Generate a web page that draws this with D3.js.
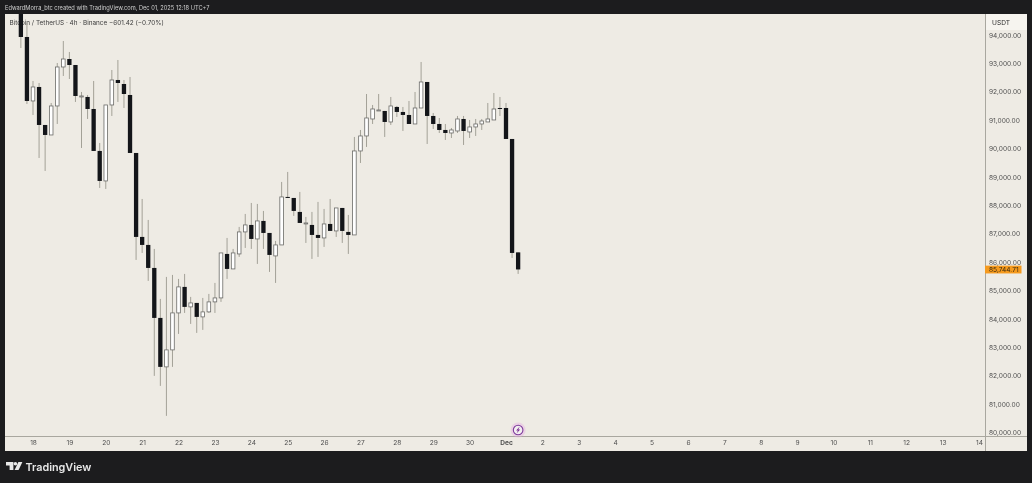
<!DOCTYPE html>
<html>
<head>
<meta charset="utf-8">
<script src="https://cdn.jsdelivr.net/npm/d3@7"></script>
<style>
  html, body { margin: 0; padding: 0; background: #1c1c1e; }
  svg { display: block; font-family: Inter, "Liberation Sans", sans-serif; filter: blur(0.3px); }
</style>
</head>
<body>
<svg id="chart" width="1032" height="483"></svg>
<script>
// 4h candles, first one sits two bars before the "18" tick
const firstBar = -2
const opens = [95100,93930,91677,92170,90832,90480,91501,92874,93155,92944,91818,91818,91395,89917,88861,91536,92416,92275,91888,89846,86890,86608,85798,84038,82314,82912,84214,85130,84426,84566,84074,84250,84602,84742,86291,85763,86291,87066,87312,86819,87453,87030,86221,86608,88298,88262,87770,87347,87312,86960,86854,87347,87101,87910,87066,86960,89917,90445,91043,91325,91325,90938,91466,91290,91184,90867,91430,92346,91149,90867,90656,90550,90621,91043,90586,90762,90867,90938,91008,91430,91430,90339,86346.13]
const highs = [95300,94420,92381,92310,90832,91606,93014,93789,93402,92944,91994,91888,92381,90198,91536,92768,93120,92416,92522,89846,88227,87488,86467,84707,85482,85552,85411,85587,84778,84566,84742,84883,85270,86326,86854,86467,87242,87699,88086,88051,87805,87030,86749,88826,89178,88262,88474,87594,87770,88122,87875,88227,87910,87910,87664,90410,90656,91923,91536,91923,91325,91818,91501,91466,91677,91994,93050,92346,91254,91078,90867,90726,91149,91149,91008,91043,91043,91606,91958,91818,91606,90339,86346.13]
const lows = [93542,91571,91184,89670,89213,90480,90867,92557,92451,91642,90022,91043,89917,88614,88579,91149,91642,91430,89846,86080,86326,85341,81997,81645,80589,82314,83475,84214,83827,83510,83616,84214,84214,84602,85411,85763,86186,86502,86467,85939,86467,85658,85270,86608,88262,87629,87382,86678,86115,86186,86538,87101,86890,86678,86291,86960,89494,90058,90867,91325,90410,90832,91114,90621,90867,90867,91430,90163,90691,90550,90304,90374,90550,90128,90374,90445,90656,90938,91008,91149,90339,86150,85587]
const closes = [93930,91677,92170,90832,90480,91501,92874,93155,92944,91853,91853,91395,89917,88861,91536,92416,92310,91923,89846,86890,86608,85798,84038,82314,82912,84214,85130,84426,84566,84074,84250,84602,84742,86326,85763,86326,87066,87312,86819,87453,87030,86256,86608,88298,88262,87805,87382,87382,86960,86854,87347,87101,87910,87101,86960,89917,90445,91078,91395,91360,90938,91501,91290,91184,90867,91430,92346,91149,90867,90656,90550,90656,91043,90621,90762,90867,90973,91043,91395,91395,90339,86326,85744.71]

const priceTicks = [94000,93000,92000,91000,90000,89000,88000,87000,86000,85000,84000,83000,82000,81000,80000]
const dayLabels = ["18","19","20","21","22","23","24","25","26","27","28","29","30","Dec","2","3","4","5","6","7","8","9","10","11","12","13","14"]
const barsPerDay = 6

const headerText = "EdwardMorra_btc created with TradingView.com, Dec 01, 2025 12:18 UTC+7"
const legendText = "Bitcoin / TetherUS · 4h · Binance"
const changeText = "−601.42 (−0.70%)"
const lastPrice = closes[closes.length - 1]

const bg = "#1c1c1e", paper = "#eeebe4", axisLine = "#a9a79f", labelColor = "#4f4f4f"
const plot = {left: 5, right: 985, top: 14, bottom: 437, axisRight: 1027, axisBottom: 451}

const svg = d3.select("#chart")
const fmt = d3.format(",.2f")

const x = d3.scaleLinear().domain([0, 156]).range([33, 979])
const y = d3.scaleLinear().domain([80000, 94000]).range([432.6, 35])

svg.append("rect").attr("width", 1032).attr("height", 483).attr("fill", bg)
svg.append("rect")
    .attr("x", plot.left).attr("y", plot.top)
    .attr("width", plot.axisRight - plot.left).attr("height", plot.axisBottom - plot.top)
    .attr("fill", paper)
svg.append("rect")
    .attr("x", plot.right).attr("y", plot.top)
    .attr("width", plot.axisRight - plot.right).attr("height", 16)
    .attr("fill", "#f6f4ef")

svg.append("clipPath").attr("id", "plotClip")
  .append("rect")
    .attr("x", plot.left).attr("y", plot.top)
    .attr("width", plot.right - plot.left).attr("height", plot.bottom - plot.top)

svg.append("text")
    .attr("x", 5).attr("y", 10)
    .attr("fill", "#cfcfcf").attr("font-size", 5.7)
    .text(headerText)

const legend = svg.append("text")
    .attr("x", 9.5).attr("y", 24.5)
    .attr("fill", "#3c3c3c").attr("font-size", 6.4)
legend.append("tspan").text(legendText)
legend.append("tspan").attr("x", 109).text(changeText)

// candles
const bars = d3.range(opens.length).map(i => ({
  pos: i + firstBar, open: opens[i], high: highs[i], low: lows[i], close: closes[i]
}))
const candles = svg.append("g").attr("clip-path", "url(#plotClip)")

candles.selectAll("line.wick")
  .data(bars)
  .join("line")
    .attr("class", "wick")
    .attr("x1", d => x(d.pos)).attr("x2", d => x(d.pos))
    .attr("y1", d => y(d.high)).attr("y2", d => y(d.low))
    .attr("stroke", "#a3a197").attr("stroke-width", 1)

candles.selectAll("rect.body")
  .data(bars)
  .join("rect")
    .attr("class", "body")
    .each(function(d) {
      const up = d.close >= d.open
      const w = up ? 3.6 : 4.3
      const top = y(Math.max(d.open, d.close))
      const h = Math.max(y(Math.min(d.open, d.close)) - top, 0.8)
      d3.select(this)
          .attr("x", x(d.pos) - w / 2).attr("y", top)
          .attr("width", w).attr("height", h)
          .attr("fill", up ? "#ffffff" : "#131519")
          .attr("stroke", up ? "#6b6b68" : "none")
          .attr("stroke-width", up ? 0.8 : 0)
    })

// axes
const priceAxis = d3.axisRight(y)
    .tickValues(priceTicks)
    .tickSize(0).tickPadding(4)
    .tickFormat(fmt)
const gy = svg.append("g")
    .attr("transform", `translate(${plot.right},0)`)
    .call(priceAxis)
gy.select(".domain").remove()
gy.selectAll("text")
    .attr("font-size", 6.6).attr("font-family", "Inter, sans-serif").attr("fill", labelColor)

const timeAxis = d3.axisBottom(x)
    .tickValues(dayLabels.map((d, i) => i * barsPerDay))
    .tickSize(0).tickPadding(3.5)
    .tickFormat((d, i) => dayLabels[i])
const gx = svg.append("g")
    .attr("transform", `translate(0,${plot.bottom})`)
    .call(timeAxis)
gx.select(".domain").remove()
gx.selectAll("text")
    .attr("font-size", 6.6).attr("font-family", "Inter, sans-serif").attr("fill", labelColor)
    .attr("font-weight", (d, i) => dayLabels[i] === "Dec" ? 700 : 400)

svg.append("line")
    .attr("x1", plot.right + 0.5).attr("x2", plot.right + 0.5)
    .attr("y1", plot.top).attr("y2", plot.axisBottom)
    .attr("stroke", axisLine)
svg.append("line")
    .attr("x1", plot.left).attr("x2", plot.axisRight)
    .attr("y1", plot.bottom - 0.5).attr("y2", plot.bottom - 0.5)
    .attr("stroke", axisLine)

svg.append("text")
    .attr("x", 992).attr("y", 25.2)
    .attr("fill", "#2a2a2a").attr("font-size", 6.6)
    .text("USDT")

// last price tag
svg.append("rect")
    .attr("x", plot.right).attr("y", y(lastPrice) - 3.8)
    .attr("width", 36.5).attr("height", 7.8)
    .attr("fill", "#f59a1e")
svg.append("text")
    .attr("x", 989).attr("y", y(lastPrice) + 0.2).attr("dy", "0.34em")
    .attr("fill", "#3a2a10").attr("font-size", 6.6)
    .text(fmt(lastPrice))

// lightning marker under the last bars
const marker = svg.append("g").attr("transform", `translate(${x(80)},430)`)
marker.append("circle").attr("r", 7.5).attr("fill", "#e6a9e3").attr("opacity", 0.4)
marker.append("circle").attr("r", 4.8).attr("fill", "#f3eff0").attr("stroke", "#7d3a9c").attr("stroke-width", 1.1)
marker.append("path").attr("d", "M1.6,-3.4L-2,0.5H-0.2L-1.6,3.4L2,-0.5H0.2Z").attr("fill", "#7b2d96")

// logo
const logo = svg.append("g").attr("transform", "translate(6,462)").attr("fill", "#e8e8e8")
logo.append("path").attr("d", "M0,0H7.4V8H3.6V3.6H0Z")
logo.append("circle").attr("cx", 9.4).attr("cy", 1.8).attr("r", 1.8)
logo.append("path").attr("d", "M12.4,0H16.4L12.6,8H8.6Z")
svg.append("text")
    .attr("x", 25.5).attr("y", 471)
    .attr("fill", "#e8e8e8").attr("font-size", 10.8).attr("font-weight", 600)
    .attr("font-family", "Inter, sans-serif")
    .text("TradingView")
</script>
</body>
</html>
